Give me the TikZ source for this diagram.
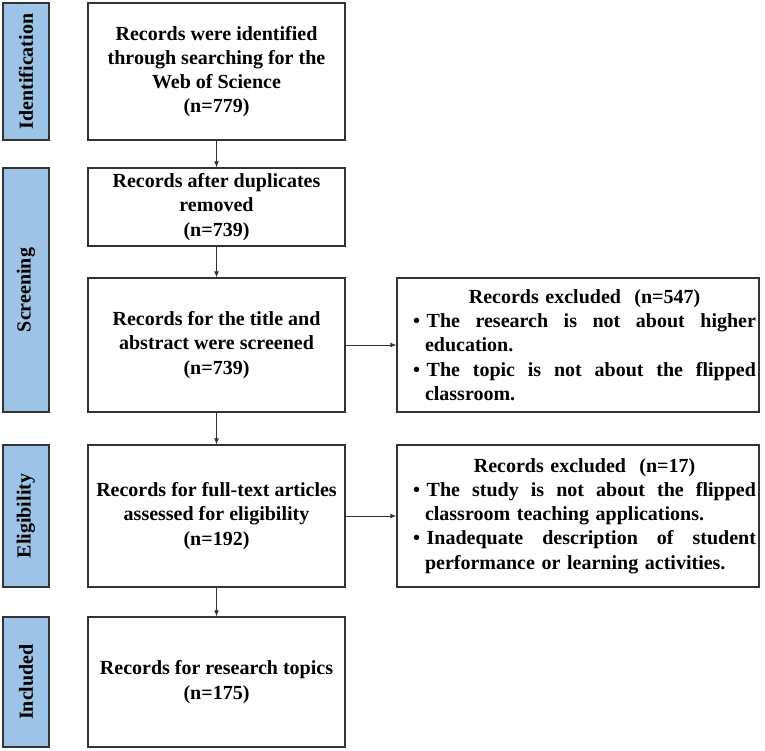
\documentclass[tikz,border=0pt]{standalone}
\usepackage{fontspec}
\setmainfont{Liberation Serif}
\usetikzlibrary{arrows.meta}
\definecolor{barblue}{HTML}{9DC3E6}
\definecolor{edgegray}{HTML}{333333}
\newcommand{\jstline}[1]{\hspace*{13pt}\hbox to 343pt{#1}}
\newcommand{\hangline}[1]{\hspace*{25pt}#1}
\begin{document}
\begin{tikzpicture}[x=1pt,y=-1pt,
  font=\fontsize{20}{24.2}\selectfont\bfseries,
  bar/.style={draw=edgegray, line width=1.2pt, fill=barblue, rotate=90, minimum height=46pt, inner sep=0pt},
  mainbox/.style={draw=edgegray, line width=1.2pt, minimum width=257pt, align=center, inner sep=0pt},
  exbox/.style={draw=edgegray, line width=1.2pt, minimum width=362pt, text width=356pt, align=left, inner sep=0pt},
  arr/.style={draw=edgegray, line width=1pt, -{Latex[length=6pt,width=5pt]}}]
\useasboundingbox (0,0) rectangle (765,750);

% stage bars
\node[bar, minimum width=137pt] (sid) at (26,71.5) {Identification};
\node[bar, minimum width=244pt] (sscr) at (26,290) {Screening};
\node[bar, minimum width=142pt] (selig) at (26,516) {Eligibility};
\node[bar, minimum width=130pt] (sinc) at (26,682) {Included};

% main column
\node[mainbox, minimum height=137pt] (b1) at (216.5,71.5)
  {Records were identified\\through searching for the\\Web of Science\\(n=779)};
\node[mainbox, minimum height=78pt] (b2) at (216.5,207)
  {Records after duplicates\\removed\\(n=739)};
\node[mainbox, minimum height=134pt] (b3) at (216.5,345)
  {Records for the title and\\abstract were screened\\(n=739)};
\node[mainbox, minimum height=142pt] (b4) at (216.5,516)
  {Records for full-text articles\\assessed for eligibility\\(n=192)};
\node[mainbox, minimum height=130pt] (b5) at (216.5,682)
  {Records for research topics\\(n=175)};

% exclusion boxes
\node[exbox, minimum height=134pt] (r1) at (578,345)
  {\jstline{\hfil Records excluded\ \ (n=547)\hfil}\\
   \jstline{\textbullet\ The\hfill research\hfill is\hfill not\hfill about\hfill higher}\\
   \hangline{education.}\\
   \jstline{\textbullet\ The\hfill topic\hfill is\hfill not\hfill about\hfill the\hfill flipped}\\
   \hangline{classroom.}};
\node[exbox, minimum height=142pt] (r2) at (578,516)
  {\jstline{\hfil Records excluded\ \ (n=17)\hfil}\\
   \jstline{\textbullet\ The\hfill study\hfill is\hfill not\hfill about\hfill the\hfill flipped}\\
   \hangline{classroom teaching applications.}\\
   \jstline{\textbullet\ Inadequate\hfill description\hfill of\hfill student}\\
   \hangline{performance or learning activities.}};

% connectors
\draw[arr] (b1.south) -- (b2.north);
\draw[arr] (b2.south) -- (b3.north);
\draw[arr] (b3.south) -- (b4.north);
\draw[arr] (b4.south) -- (b5.north);
\draw[arr] (b3.east) -- (r1.west);
\draw[arr] (b4.east) -- (r2.west);
\end{tikzpicture}
\end{document}
